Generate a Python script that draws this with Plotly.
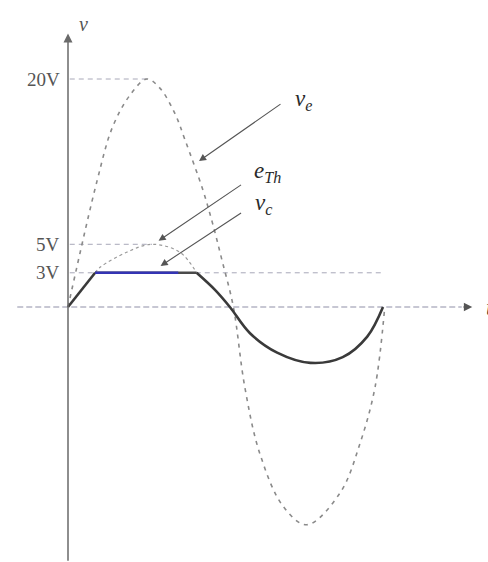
import plotly.graph_objects as go

# phase in degrees (0..360 = one period), voltage in V
# big source wave v_e (20 V)
ve_t = [0, 33, 51, 71, 90, 105, 122, 134, 154, 165, 176, 189, 202, 219, 246, 273, 311, 334, 351, 362]
ve_v = [0, 11.0, 15.8, 18.6, 20.0, 19.2, 17.0, 14.6, 10.3, 7.4, 4.1, 0, -7.0, -12.8, -17.5, -19.1, -16.3, -11.9, -7.0, 0]

# Thevenin source e_Th (dashed arc above the clip level)
eth_t = [31, 37, 67, 96, 128, 147]
eth_v = [3.0, 3.5, 4.8, 5.5, 4.8, 3.0]

# clipped output v_c
rise_t = [0, 31]
rise_v = [0, 3.0]
flat_t = [31, 147]
flat_v = [3.0, 3.0]
blue_t = [31, 126]
blue_v = [3.0, 3.0]
fall_t = [147, 168, 185, 208, 239, 277, 314, 342, 360]
fall_v = [3.0, 1.5, 0, -2.3, -4.0, -4.9, -4.4, -2.6, 0]

# level marks on the v axis
level_v = [20, 5.5, 3]
level_text = ["20V", "5V", "3V"]
level_end = [90, 96, 362]

fig = go.Figure()

fig.add_trace(go.Scatter(x=ve_t, y=ve_v, mode="lines", line_shape="spline",
                         line=dict(color="#8a8a8a", width=1.6, dash="4px,5px")))
fig.add_trace(go.Scatter(x=eth_t, y=eth_v, mode="lines", line_shape="spline",
                         line=dict(color="#9a9a9a", width=1.2, dash="3px,3px")))
fig.add_trace(go.Scatter(x=rise_t, y=rise_v, mode="lines",
                         line=dict(color="#3a3a3a", width=2.6)))
fig.add_trace(go.Scatter(x=flat_t, y=flat_v, mode="lines",
                         line=dict(color="#4a4a4a", width=2.6)))
fig.add_trace(go.Scatter(x=fall_t, y=fall_v, mode="lines", line_shape="spline",
                         line=dict(color="#3a3a3a", width=2.6)))
fig.add_trace(go.Scatter(x=blue_t, y=blue_v, mode="lines",
                         line=dict(color="#3434b4", width=2.6)))

# dashed guides + labels for the levels
for v, txt, end in zip(level_v, level_text, level_end):
    fig.add_shape(type="line", x0=2, x1=end, y0=v, y1=v,
                  line=dict(color="#a8a8b8", width=1, dash="5px,4px"), layer="below")
    fig.add_annotation(x=-7, y=v, text=txt, showarrow=False, xanchor="right", yanchor="middle",
                       font=dict(family="Liberation Serif", size=19, color="#555555"))

# t axis (dashed) with arrow head
fig.add_shape(type="line", x0=-58, x1=450, y0=0, y1=0,
              line=dict(color="#9090a8", width=1.2, dash="6px,3px"), layer="below")
fig.add_annotation(x=462, y=0, ax=450, ay=0, axref="x", ayref="y", text="",
                   showarrow=True, arrowhead=2, arrowsize=1.4, arrowwidth=1.2, arrowcolor="#555555")
fig.add_annotation(x=475, y=0, text="<i>t</i>", showarrow=False, xanchor="left",
                   font=dict(family="Liberation Serif", size=24, color="#333333"))

# v axis with arrow head
fig.add_annotation(x=0, y=24.0, ax=0, ay=-22.4, axref="x", ayref="y", text="",
                   showarrow=True, arrowhead=2, arrowsize=1.2, arrowwidth=1.5, arrowcolor="#6a6a6a")
fig.add_annotation(x=10, y=24.8, text="<i>v</i>", showarrow=False, xanchor="left",
                   font=dict(family="Liberation Serif", size=20, color="#555555"))

# pointer arrows
arrows = [
    (149.7, 12.8, 83, -58, "<i>v</i><sub><i>e</i></sub>", 257, 18.2),
    (103.5, 5.8, 84, -57, "<i>e</i><sub><i>Th</i></sub>", 210, 11.8),
    (105.8, 3.6, 82, -54, "<i>v</i><sub><i>c</i></sub>", 211, 9.0),
]
for hx, hy, ax, ay, txt, lx, ly in arrows:
    fig.add_annotation(x=hx, y=hy, ax=ax, ay=ay, text="", showarrow=True,
                       arrowhead=2, arrowsize=1.3, arrowwidth=1.1, arrowcolor="#555555")
    fig.add_annotation(x=lx, y=ly, text=txt, showarrow=False, xanchor="left",
                       font=dict(family="Liberation Serif", size=23, color="#2a2a2a"))

fig.update_layout(
    width=488, height=562,
    margin=dict(l=0, r=0, t=0, b=0),
    plot_bgcolor="white", paper_bgcolor="white",
    showlegend=False,
    xaxis=dict(range=[-77.71, 480], visible=False, fixedrange=True),
    yaxis=dict(range=[-22.37, 26.93], visible=False, fixedrange=True),
)

# drop the page's default body margin so the figure sits at the top-left corner
fig.write_html("out.html", config={"displayModeBar": False},
               post_script="document.body.style.margin='0';document.body.style.overflow='hidden';")
